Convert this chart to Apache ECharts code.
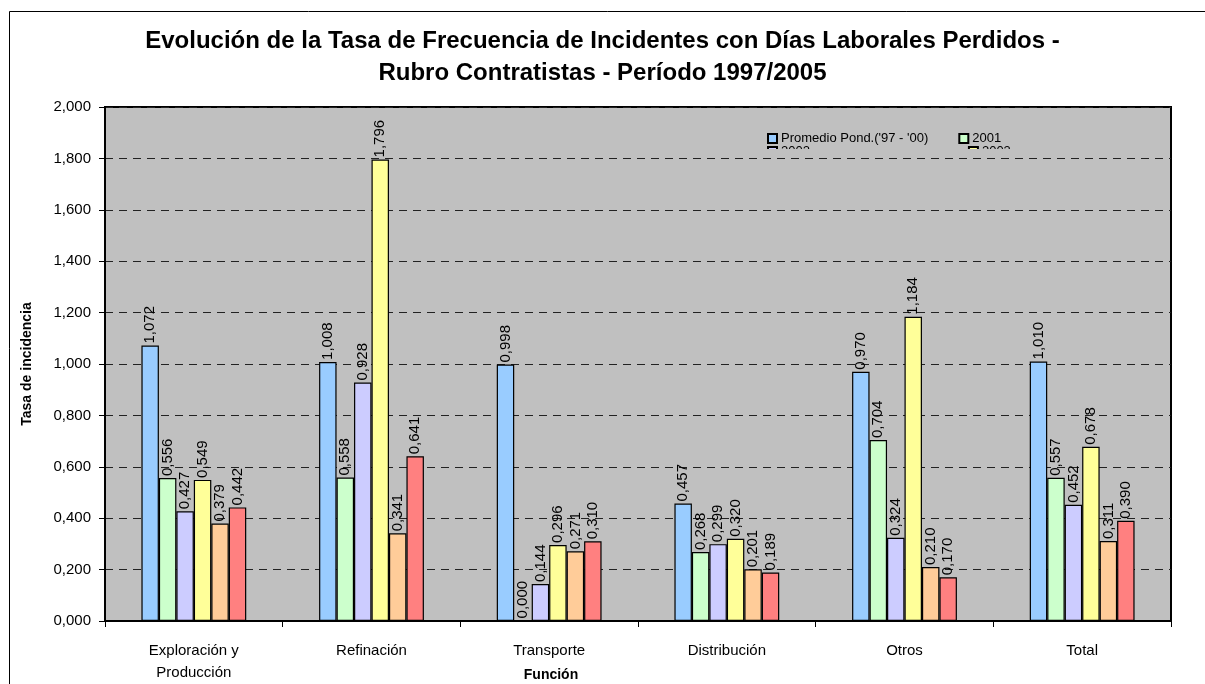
<!DOCTYPE html>
<html><head><meta charset="utf-8">
<script src="https://cdn.jsdelivr.net/npm/echarts@6/dist/echarts.min.js"></script>
<style>html,body{margin:0;padding:0;background:#fff}#c{width:1205px;height:684px}</style>
</head><body><div id="c"></div>
<script>
const categories = ['Exploración y\nProducción', 'Refinación', 'Transporte', 'Distribución', 'Otros', 'Total'];
const seriesNames = ["Promedio Pond.('97 - '00)", '2001', '2002', '2003', '2004', '2005'];
const promedio = [1.072, 1.008, 0.998, 0.457, 0.970, 1.010];
const y2001 = [0.556, 0.558, 0.000, 0.268, 0.704, 0.557];
const y2002 = [0.427, 0.928, 0.144, 0.299, 0.324, 0.452];
const y2003 = [0.549, 1.796, 0.296, 0.320, 1.184, 0.678];
const y2004 = [0.379, 0.341, 0.271, 0.201, 0.210, 0.311];
const y2005 = [0.442, 0.641, 0.310, 0.189, 0.170, 0.390];
const yTicks = [0, 0.2, 0.4, 0.6, 0.8, 1.0, 1.2, 1.4, 1.6, 1.8, 2.0];

const allData = [promedio, y2001, y2002, y2003, y2004, y2005];
const colors = ['#99ccff', '#ccffcc', '#ccccff', '#ffff99', '#ffcc99', '#ff8080'];
const FONT = '"Liberation Sans", Arial, sans-serif';
const fmt = v => v.toFixed(3).replace('.', ',');

const chart = echarts.init(document.getElementById('c'), null, {renderer: 'canvas'});
const option = {
  animation: false,
  backgroundColor: '#ffffff',
  textStyle: {fontFamily: FONT},
  title: {
    text: 'Evolución de la Tasa de Frecuencia de Incidentes con Días Laborales Perdidos -\nRubro Contratistas - Período 1997/2005',
    left: 'center', top: 20,
    textStyle: {fontFamily: FONT, fontWeight: 'bold', fontSize: 24, lineHeight: 32, color: '#000'}
  },
  legend: [{
    data: seriesNames.slice(0, 2),
    left: 767, top: 132, itemWidth: 9, itemHeight: 9, itemGap: 30,
    icon: 'rect',
    textStyle: {fontFamily: FONT, fontSize: 13, color: '#000', padding: [0, 0, 0, -1]},
    padding: 0
  }, {
    data: seriesNames.slice(2, 4),
    left: 767, top: 145, itemWidth: 9, itemHeight: 9, itemGap: 158,
    icon: 'rect',
    textStyle: {fontFamily: FONT, fontSize: 13, color: '#000', padding: [0, 0, 0, -1]},
    padding: 0
  }],
  grid: {
    left: 105, top: 107, width: 1066, height: 516,
    show: true, backgroundColor: '#c0c0c0', borderColor: '#000', borderWidth: 2
  },
  xAxis: {
    type: 'category', data: categories,
    axisLine: {lineStyle: {color: '#000', width: 2}},
    axisTick: {show: true, alignWithLabel: false, length: 6, lineStyle: {color: '#000', width: 1}},
    axisLabel: {fontFamily: FONT, fontSize: 15, color: '#000', margin: 19, lineHeight: 22, interval: 0},
    splitLine: {show: false}
  },
  yAxis: {
    type: 'value', min: 0, max: 2, interval: 0.2,
    name: 'Tasa de incidencia', nameLocation: 'middle', nameGap: 71,
    nameTextStyle: {fontFamily: FONT, fontSize: 14, fontWeight: 'bold', color: '#000'},
    axisLine: {show: true, lineStyle: {color: '#000', width: 2}},
    axisTick: {show: true, length: 6, lineStyle: {color: '#000'}},
    axisLabel: {fontFamily: FONT, fontSize: 15, color: '#000', margin: 14, formatter: v => fmt(v)},
    splitLine: {show: true, lineStyle: {color: '#222', type: [8, 6], width: 1}}
  },
  series: seriesNames.map((n, i) => ({
    name: n, type: 'bar',
    data: allData[i],
    barGap: '0%', barCategoryGap: '41%',
    itemStyle: {color: colors[i], borderColor: '#000', borderWidth: 1.2},
    label: {
      show: true, position: 'top', rotate: 90, align: 'left', verticalAlign: 'middle',
      distance: 2, fontFamily: FONT, fontSize: 15, color: '#000',
      formatter: p => fmt(p.value)
    }
  })),
  graphic: [
    {type: 'rect', shape: {x: 9.5, y: 11.5, width: 1220, height: 700}, style: {fill: 'none', stroke: '#000', lineWidth: 1}, z: -10, silent: true},
    {type: 'rect', shape: {x: 760, y: 149, width: 260, height: 8}, style: {fill: '#c0c0c0'}, z: 100, silent: true},
    {type: 'text', x: 551, y: 668, style: {text: 'Función', fontFamily: FONT, fontSize: 14, fontWeight: 'bold', fill: '#000', align: 'center'}, z: 100}
  ]
};
chart.setOption(option);
</script></body></html>
